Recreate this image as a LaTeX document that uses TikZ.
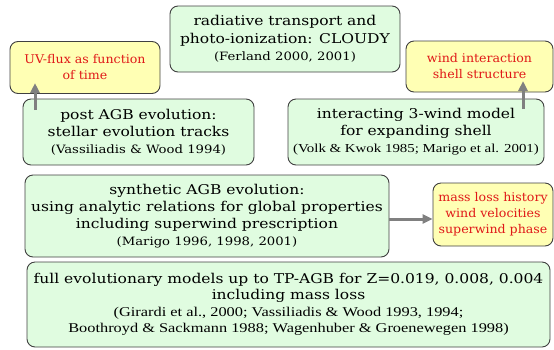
\documentclass[tikz,border=0pt]{standalone}
\usepackage{fontspec}
\setmainfont{DejaVu Serif}[FakeStretch=1.15]
\newfontfamily\reffont{Liberation Serif}[FakeStretch=1.22]
\newfontfamily\redfont{DejaVu Serif}[FakeStretch=1.05]
\usetikzlibrary{arrows.meta}
\definecolor{boxgreen}{HTML}{E0FCE0}
\definecolor{boxyellow}{HTML}{FFFFB4}
\definecolor{boxborder}{HTML}{404040}
\definecolor{redtext}{HTML}{E01818}
\definecolor{arrowgray}{HTML}{808080}
\newcommand{\bigt}{\fontsize{13.5}{17}\selectfont}
\newcommand{\smallt}{\fontsize{11.5}{16}\selectfont}
\newcommand{\redt}{\redfont\fontsize{12}{16}\selectfont\color{redtext}}
\newcommand{\reft}{\reffont\fontsize{13.4}{15}\selectfont}
\newcommand{\refst}{\reffont\fontsize{12.2}{15}\selectfont}
\begin{document}
\begin{tikzpicture}[x=1pt,y=-1pt,
  gbox/.style={draw=boxborder, line width=0.9pt, fill=boxgreen, rounded corners=8pt, align=center, inner sep=0pt},
  ybox/.style={draw=boxborder, line width=0.9pt, fill=boxyellow, rounded corners=8pt, align=center, inner sep=0pt},
  garrow/.style={draw=arrowgray, line width=3pt, -{Triangle[length=10pt,width=9pt]}}]
\useasboundingbox (0,0) rectangle (554,349);
\node[gbox, minimum width=230pt, minimum height=66pt, font=\fontsize{13.5}{17.5}\selectfont] (cloudy) at (285,39)
  {\bigt radiative transport and\\ \bigt photo-ionization: CLOUDY\\ \smallt (Ferland 2000, 2001)};
\node[ybox, minimum width=150pt, minimum height=52pt, font=\fontsize{12}{16}\selectfont] (uv) at (85,67.5)
  {\redt UV-flux as function\\ \redt of time};
\node[gbox, minimum width=231pt, minimum height=66pt, font=\fontsize{13.5}{17}\selectfont] (post) at (138.5,132)
  {\bigt post AGB evolution:\\ \bigt stellar evolution tracks\\ \smallt (Vassiliadis \& Wood 1994)};
\node[ybox, minimum width=147pt, minimum height=51pt, font=\fontsize{12}{16}\selectfont] (wind) at (479.5,66.5)
  {\redt wind interaction\\ \redt shell structure};
\node[gbox, minimum width=256pt, minimum height=66pt, font=\fontsize{13.5}{17}\selectfont] (inter) at (416,132)
  {\bigt interacting 3-wind model\\ \bigt for expanding shell\\ \refst (Volk \& Kwok 1985; Marigo et al. 2001)};
\node[gbox, minimum width=364pt, minimum height=82pt, font=\fontsize{13.5}{17}\selectfont] (synth) at (207,216)
  {\bigt synthetic AGB evolution:\\ \bigt using analytic relations for global properties\\ \bigt including superwind prescription\\ \smallt (Marigo 1996, 1998, 2001)};
\node[ybox, minimum width=120pt, minimum height=63pt, font=\fontsize{12}{16}\selectfont] (mass) at (493,214.5)
  {\redt mass loss history\\ \redt wind velocities\\ \redt superwind phase};
\node[gbox, minimum width=523pt, minimum height=85pt, font=\fontsize{13.5}{16.5}\selectfont] (full) at (288.5,304.5)
  {\bigt full evolutionary models up to TP-AGB for Z=0.019, 0.008, 0.004\\ \bigt including mass loss\\ \reft (Girardi et al., 2000; Vassiliadis \& Wood 1993, 1994;\\ \reft Boothroyd \& Sackmann 1988; Wagenhuber \& Groenewegen 1998)};
\coordinate (a1s) at (35,110);
\coordinate (a1e) at (35,83);
\draw[garrow] (a1s) -- (a1e);
\coordinate (a2s) at (523,109);
\coordinate (a2e) at (523,81);
\draw[garrow] (a2s) -- (a2e);
\draw[garrow] (synth.east |- 0,219) -- (mass.west |- 0,219);
\end{tikzpicture}
\end{document}
